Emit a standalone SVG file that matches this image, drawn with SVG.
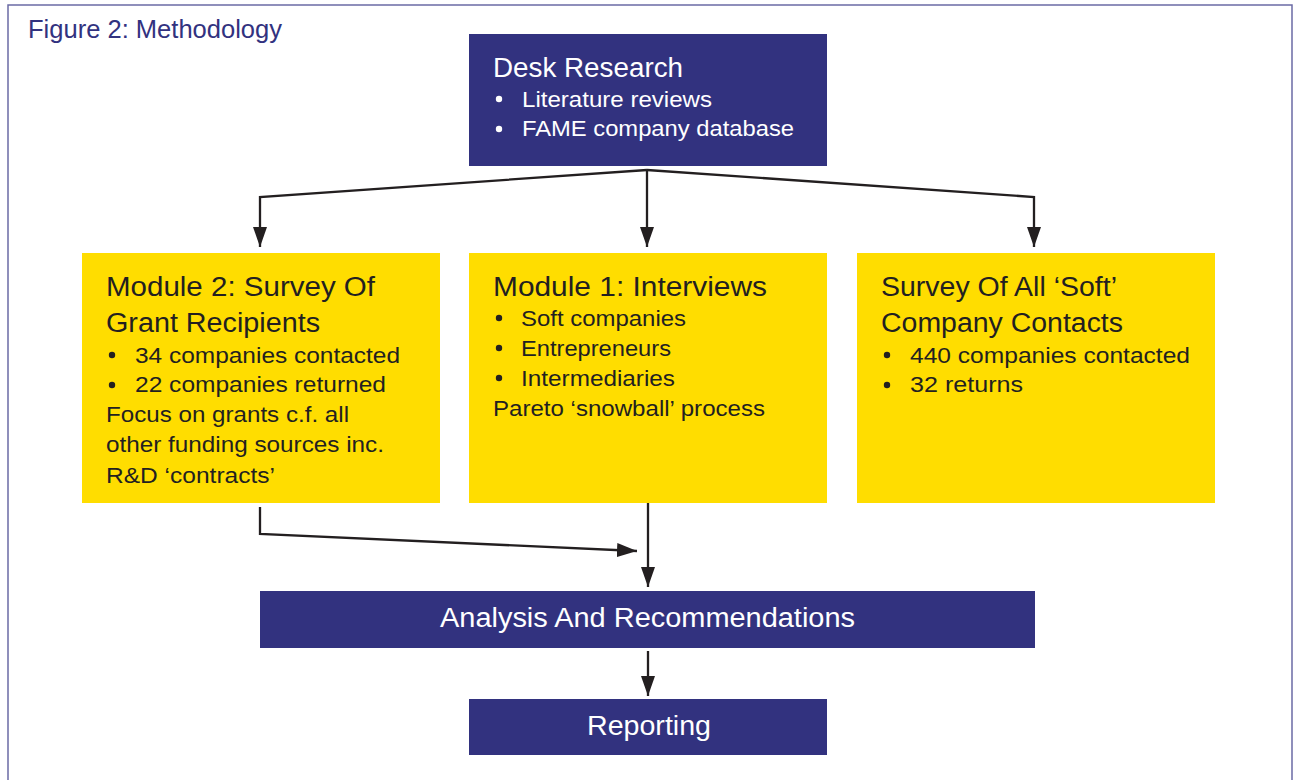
<svg xmlns="http://www.w3.org/2000/svg" width="1295" height="780" viewBox="0 0 1295 780">
<style>
.navy{fill:#32327f}
.yellow{fill:#ffdd00}
.wt{fill:#ffffff;font-family:"Liberation Sans",Arial,sans-serif}
.bt{fill:#231f20;font-family:"Liberation Sans",Arial,sans-serif}
.h{font-size:27px}
.b{font-size:22px}
.conn{fill:none;stroke:#231f20;stroke-width:2.3}
</style>
<defs>
<marker id="arr" markerUnits="userSpaceOnUse" markerWidth="20" markerHeight="14" refX="20" refY="7" orient="auto">
<path d="M0,0 L20,7 L0,14 z" fill="#231f20"/>
</marker>
</defs>
<rect x="0" y="0" width="1295" height="780" fill="#ffffff"/>
<path d="M8,780 L8,5 L1292,5 L1292,780" fill="none" stroke="#6b6ba5" stroke-width="1.5"/>
<text x="28" y="38" font-family="Liberation Sans, Arial, sans-serif" font-size="25" fill="#32327f" textLength="254" lengthAdjust="spacingAndGlyphs">Figure 2: Methodology</text>

<g id="desk">
<rect class="navy" x="469" y="34" width="358" height="132"/>
<text class="wt h" x="493" y="77" textLength="190" lengthAdjust="spacingAndGlyphs">Desk Research</text>
<circle cx="499" cy="99" r="3.2" fill="#fff"/>
<text class="wt b" x="522" y="107" textLength="190" lengthAdjust="spacingAndGlyphs">Literature reviews</text>
<circle cx="499" cy="129" r="3.2" fill="#fff"/>
<text class="wt b" x="522" y="136" textLength="272" lengthAdjust="spacingAndGlyphs">FAME company database</text>
</g>

<g id="module2">
<rect class="yellow" x="82" y="253" width="358" height="250"/>
<text class="bt h" x="106" y="296" textLength="269" lengthAdjust="spacingAndGlyphs">Module 2: Survey Of</text>
<text class="bt h" x="106" y="332" textLength="214" lengthAdjust="spacingAndGlyphs">Grant Recipients</text>
<circle cx="112" cy="355" r="3.2" fill="#231f20"/>
<text class="bt b" x="135" y="363" textLength="265" lengthAdjust="spacingAndGlyphs">34 companies contacted</text>
<circle cx="112" cy="385" r="3.2" fill="#231f20"/>
<text class="bt b" x="135" y="392" textLength="251" lengthAdjust="spacingAndGlyphs">22 companies returned</text>
<text class="bt b" x="106" y="422" textLength="243" lengthAdjust="spacingAndGlyphs">Focus on grants c.f. all</text>
<text class="bt b" x="106" y="452" textLength="278" lengthAdjust="spacingAndGlyphs">other funding sources inc.</text>
<text class="bt b" x="106" y="483" textLength="169" lengthAdjust="spacingAndGlyphs">R&amp;D ‘contracts’</text>
</g>

<g id="module1">
<rect class="yellow" x="469" y="253" width="358" height="250"/>
<text class="bt h" x="493" y="296" textLength="274" lengthAdjust="spacingAndGlyphs">Module 1: Interviews</text>
<circle cx="499" cy="318" r="3.2" fill="#231f20"/>
<text class="bt b" x="521" y="326" textLength="165" lengthAdjust="spacingAndGlyphs">Soft companies</text>
<circle cx="499" cy="348" r="3.2" fill="#231f20"/>
<text class="bt b" x="521" y="356" textLength="150" lengthAdjust="spacingAndGlyphs">Entrepreneurs</text>
<circle cx="499" cy="378" r="3.2" fill="#231f20"/>
<text class="bt b" x="521" y="386" textLength="154" lengthAdjust="spacingAndGlyphs">Intermediaries</text>
<text class="bt b" x="493" y="416" textLength="272" lengthAdjust="spacingAndGlyphs">Pareto ‘snowball’ process</text>
</g>

<g id="softsurvey">
<rect class="yellow" x="857" y="253" width="358" height="250"/>
<text class="bt h" x="881" y="296" textLength="236" lengthAdjust="spacingAndGlyphs">Survey Of All ‘Soft’</text>
<text class="bt h" x="881" y="332" textLength="242" lengthAdjust="spacingAndGlyphs">Company Contacts</text>
<circle cx="887" cy="355" r="3.2" fill="#231f20"/>
<text class="bt b" x="910" y="363" textLength="280" lengthAdjust="spacingAndGlyphs">440 companies contacted</text>
<circle cx="887" cy="385" r="3.2" fill="#231f20"/>
<text class="bt b" x="910" y="392" textLength="113" lengthAdjust="spacingAndGlyphs">32 returns</text>
</g>

<g id="analysis">
<rect class="navy" x="260" y="591" width="775" height="57"/>
<text class="wt h" x="440" y="627" textLength="415" lengthAdjust="spacingAndGlyphs">Analysis And Recommendations</text>
</g>

<g id="reporting">
<rect class="navy" x="469" y="699" width="358" height="56"/>
<text class="wt h" x="587" y="735" textLength="124" lengthAdjust="spacingAndGlyphs">Reporting</text>
</g>

<g id="connectors">
<path class="conn" d="M647,170 L260,197 L260,247" marker-end="url(#arr)"/>
<path class="conn" d="M647,170 L647,247" marker-end="url(#arr)"/>
<path class="conn" d="M647,170 L1034,197 L1034,247" marker-end="url(#arr)"/>
<path class="conn" d="M260,507 L260,534 L637,551" marker-end="url(#arr)"/>
<path class="conn" d="M648,503 L648,587" marker-end="url(#arr)"/>
<path class="conn" d="M648,651 L648,696" marker-end="url(#arr)"/>
</g>
</svg>
